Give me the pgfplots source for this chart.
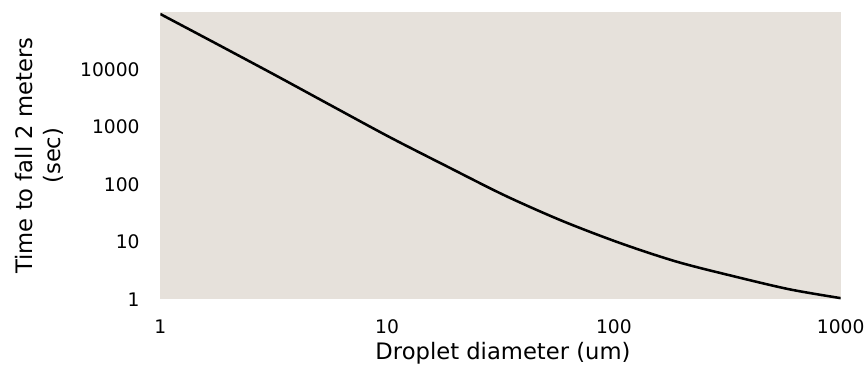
\documentclass[border=0pt]{standalone}
\usepackage{pgfplots}
\pgfplotsset{compat=1.18}
\usepackage{fontspec}
\setmainfont{DejaVu Sans}
\definecolor{bgcol}{RGB}{230,225,219}
\begin{document}
\begin{tikzpicture}
\useasboundingbox (-120.2pt,-62.8pt) rectangle (528.5pt,224.5pt);
\begin{axis}[
  scale only axis,
  width=510.3pt, height=215.5pt,
  xmode=log, ymode=log,
  xmin=1, xmax=1000, ymin=1, ymax=100000,
  axis background/.style={fill=bgcol},
  axis line style={draw=none},
  major tick length=0pt,
  xminorticks=false, yminorticks=false,
  xtick={1,10,100,1000}, xticklabels={1,10,100,1000},
  ytick={1,10,100,1000,10000}, yticklabels={1,10,100,1000,10000},
  ticklabel style={font=\fontsize{14}{16}\selectfont},
  xticklabel style={yshift=-11.5pt},
  yticklabel style={xshift=-12pt},
]
\addplot[black, line width=1.9pt, smooth] coordinates {
(1,92300) (1.778,27730) (3.205,8010) (5.72,2313) (10.3,660) (18.4,205)
(33.1,64.0) (59.0,23.3) (106.4,9.55) (189.7,4.51) (342,2.49) (597,1.49) (1000,1.05)
};
\end{axis}
\node[font=\fontsize{17}{21}\selectfont] at (257pt,-40.5pt) {Droplet diameter (um)};
\node[rotate=90, align=center, font=\fontsize{17}{21}\selectfont] at (-91pt,107.75pt) {Time to fall 2 meters\\(sec)};
\end{tikzpicture}
\end{document}
